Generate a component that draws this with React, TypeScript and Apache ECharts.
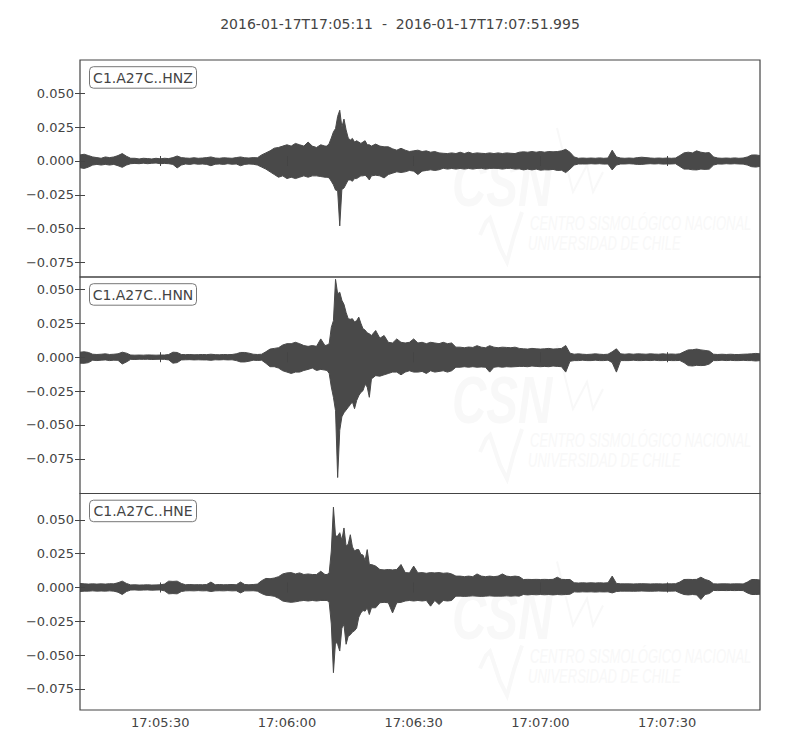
import React, { useEffect, useRef } from "react";
import * as echarts from "echarts";

const TITLE = "2016-01-17T17:05:11  -  2016-01-17T17:07:51.995";
const START_SEC = 17 * 3600 + 5 * 60 + 11;
const DURATION = 160.995;
const X_TICKS = [19, 49, 79, 109, 139];
const Y_TICKS = [-0.075, -0.05, -0.025, 0, 0.025, 0.05];
const CHANNELS = ["C1.A27C..HNZ", "C1.A27C..HNN", "C1.A27C..HNE"];
const Y_LIMITS = [
  [-0.0858, 0.0747],
  [-0.1006, 0.0592],
  [-0.0906, 0.0695],
];

// seconds after 17:05:11
const TIMES_PRE = [
  0, 1, 2, 3, 4, 5, 6, 7, 8, 9, 10, 11, 12, 13, 14, 15, 16, 17, 18, 19, 20, 21, 22, 23, 24, 25, 26, 27, 28, 29,
  30, 31, 32, 33, 34, 35, 36, 37, 38, 39, 40, 41, 42, 43, 44, 45, 46, 47, 48, 49, 50, 51, 52, 53, 54, 55, 56, 57, 58,
];
const TIMES_EVENT = [
  58.5, 59, 59.5, 60, 60.5, 61, 61.5, 62, 62.5, 63, 63.5, 64, 64.5, 65, 65.5, 66, 66.5, 67, 67.5, 68, 68.5, 69,
];
const TIMES_POST = [
  70, 71, 72, 73, 74, 75, 76, 77, 78, 79, 80, 81, 82, 83, 84, 85, 86, 87, 88, 89, 90, 91, 92, 93, 94, 95, 96, 97, 98, 99,
  100, 101, 102, 103, 104, 105, 106, 107, 108, 109, 110, 111, 112, 113, 114, 115, 116, 117, 118, 119,
  120, 121, 122, 123, 124, 125, 126, 127, 128, 129, 130, 131, 132, 133, 134, 135, 136, 137, 138, 139,
  140, 141, 142, 143, 144, 145, 146, 147, 148, 149, 150, 151, 152, 153, 154, 155, 156, 157, 158, 159, 160, 161,
];

// envelope maxima / minima, in units of 0.001
const HNZ_HI_PRE = [
  4.5, 5, 4, 3, 2.5, 2, 3, 2.5, 3, 4,
  5.5, 3.5, 2, 2, 1.5, 2, 1.8, 1.5, 2, 1.6,
  2, 1.8, 2.5, 3.7, 2.5, 2.2, 2, 2.4, 2, 2.2,
  2.5, 3, 2.2, 2, 2.4, 2.2, 2, 2.5, 3, 2.4,
  2.2, 2.5, 2.4, 4.5, 6, 7.5, 9.5, 10, 11, 12,
  11, 13, 12, 11, 14, 11, 10, 12, 11,
];
const HNZ_LO_PRE = [
  -5, -5.5, -4.5, -3, -2.5, -3, -2.5, -3, -2.5, -3.5,
  -4.7, -3, -2, -1.8, -2, -1.6, -2, -1.7, -1.5, -2,
  -1.8, -2, -2.5, -5.1, -3, -2.2, -2.5, -2, -2.4, -2.2,
  -2.5, -3.5, -2.4, -2.2, -2.5, -2, -2.4, -2.2, -3.5, -2.5,
  -2.2, -2.4, -3, -4.5, -6, -8, -10, -12, -11, -13,
  -12, -13, -12, -11, -12, -11, -11, -11.5, -12,
];
const HNZ_HI_EV = [11, 13, 17, 21.5, 24, 33, 37.5, 25, 31, 23, 17, 15.5, 16.7, 14, 15, 14, 13, 14, 15, 12, 12, 11];
const HNZ_LO_EV = [-12, -12.5, -15, -17.6, -21.5, -22, -48, -21, -20, -17, -14, -14, -15, -13, -13, -12, -11, -11, -10.5, -12, -14, -11];
const HNZ_HI_POST = [
  12.5, 11, 10.5, 10.5, 9, 8, 9.4, 8, 7, 7.5,
  8, 7, 7.5, 6.5, 7, 6, 5.7, 5.5, 6, 5.5,
  6.5, 5.5, 6.5, 5.5, 6, 5.7, 5.5, 6, 5.5, 6,
  5.5, 6, 5.7, 5.5, 6.5, 6.8, 6.5, 7, 6.5, 7,
  6.5, 7, 6.8, 7, 7.5, 8.6, 6.5, 3, 2, 2.2,
  2, 2.2, 2, 2.3, 2, 2.2, 8, 3, 2.2, 2,
  2.2, 2, 2.5, 2.8, 2.5, 2.2, 2, 2.2, 2, 2.2,
  2, 2.2, 4, 6, 6.5, 6, 7.5, 6.5, 6, 6.2,
  3, 2.2, 2, 2.2, 2, 2.3, 2, 2.2, 3, 4.4,
  4.5, 4,
];
const HNZ_LO_POST = [
  -10.5, -11, -12.5, -10, -9, -8, -8.5, -8, -7, -7.5,
  -10, -7.5, -7, -6.5, -7, -6.5, -5.4, -6, -5.5, -6,
  -5.5, -6, -5.5, -6, -5.5, -5.4, -6, -5.5, -5.4, -5.5,
  -6, -5.5, -5.4, -6, -5.8, -6.6, -6, -6.6, -6, -6.8,
  -6.5, -6.6, -6.2, -7, -6.8, -8.6, -6, -3, -2.2, -2.2,
  -2.2, -2, -2.2, -2, -2.3, -2.2, -6.6, -3, -2.2, -2.2,
  -2, -2.2, -2.5, -2.5, -2.2, -2, -2.2, -2, -2.3, -2.2,
  -2.2, -2, -4, -6, -6, -6.5, -6.6, -6, -6.2, -6,
  -3, -2.2, -2.3, -2, -2.2, -2, -2.2, -2.3, -3, -4.2,
  -4.5, -4,
];

const HNN_HI_PRE = [
  3.7, 4, 3.5, 2.2, 2, 2.2, 2.5, 2, 2.2, 2.5,
  3.7, 3, 1.6, 1.5, 1.6, 1.5, 1.7, 1.6, 1.5, 1.6,
  1.6, 2, 3.7, 3.5, 2, 1.9, 2, 1.8, 1.9, 2,
  1.9, 2.2, 1.9, 1.8, 2, 1.9, 2, 2.5, 3.5, 3.5,
  3, 2.2, 2, 2.2, 4, 6, 6.5, 7, 9, 10,
  10, 11, 10, 8.6, 8, 8.6, 8, 13.5, 8.6,
];
const HNN_LO_PRE = [
  -4.4, -4.5, -4, -2.2, -2.5, -2.2, -2, -2.5, -2.2, -2.3,
  -5, -3.5, -1.6, -1.7, -1.5, -1.6, -1.5, -1.7, -1.6, -1.5,
  -1.6, -2, -4.4, -4, -2, -1.9, -1.8, -2, -1.9, -2,
  -2, -2.3, -1.9, -2, -1.8, -2, -1.9, -2.5, -3.5, -3.5,
  -3, -2.2, -2.4, -2.2, -4.5, -7, -7, -8, -10, -11,
  -12, -11, -11, -9.8, -9, -8, -9.8, -9, -9.5,
];
const HNN_HI_EV = [9, 10, 22, 27, 57.5, 46.8, 48, 42, 39, 33, 28.4, 28, 28.4, 26, 27, 29.6, 25, 21, 20, 18, 17.3, 16];
const HNN_LO_EV = [-9.8, -12, -22, -29.6, -39.5, -88.8, -54, -44, -41, -39, -37, -35, -33, -38, -32, -28.4, -26, -24.7, -20, -22, -29.6, -16];
const HNN_HI_POST = [
  19.7, 14, 16, 11, 10.5, 13.5, 11, 10.5, 11, 13.5,
  10.5, 11, 10, 11, 10.5, 10, 11, 10, 10.5, 7.4,
  7.4, 7, 7.5, 7.2, 8.5, 7.4, 7, 8.5, 7.4, 7,
  7.4, 7.2, 7, 7.4, 6.5, 6.2, 6, 6.5, 6.2, 6,
  6.2, 6.5, 6, 6.2, 6.5, 8.6, 3, 2.2, 2.5, 2.2,
  2, 2.2, 2.5, 2.2, 2, 2.2, 4, 6.2, 2.5, 2.2,
  2.5, 2.2, 2.5, 2.4, 2.2, 2.5, 2.3, 2.2, 2.5, 2.2,
  2.4, 2.2, 2.5, 4, 5.4, 5.5, 6, 5.4, 5, 4.5,
  2.2, 2, 2.2, 2, 2.2, 2, 2, 2.2, 2.3, 2.5,
  2.8, 2.5,
];
const HNN_LO_POST = [
  -13.6, -14, -13, -12, -11, -11, -13, -11, -10, -11,
  -11, -10.5, -12, -10, -11, -10.5, -10, -11, -10, -7.4,
  -7.4, -7, -7.4, -7, -7.4, -7.2, -7.4, -11, -7.4, -7,
  -7.4, -7, -7.2, -7, -6.8, -6.8, -7, -6.5, -6.8, -7,
  -6.8, -7, -6.5, -6.8, -7, -11, -3, -2.5, -2.5, -2.2,
  -2.5, -2.5, -2.2, -2.5, -2.5, -2.2, -4, -11, -2.5, -2.5,
  -2.5, -2.2, -2.5, -2.5, -2.3, -2.5, -2.2, -2.5, -2.5, -2.3,
  -2.5, -2.5, -2.4, -4, -6.2, -6.5, -6, -6.2, -6, -5,
  -2.5, -2.5, -2.2, -2.5, -2.3, -2.5, -2.5, -2.3, -2.5, -2.5,
  -2.8, -2.5,
];

const HNE_HI_PRE = [
  3, 2.7, 2.5, 2.7, 2.5, 2.7, 2.5, 2.8, 2.7, 3.5,
  4.7, 3, 1.9, 2, 1.8, 1.9, 2, 1.8, 1.9, 2,
  2.5, 4.7, 4.5, 4.7, 3, 2, 2.2, 2, 2.1, 2,
  2.2, 4, 2, 2.2, 2, 2.1, 2.2, 2, 4, 2.2,
  2, 2.2, 2.5, 5, 6.7, 6.5, 7, 8, 10, 10.8,
  11, 10, 10.8, 9.6, 10, 9.6, 9.6, 12, 9.6,
];
const HNE_LO_PRE = [
  -3, -2.7, -2.7, -2.5, -2.7, -2.6, -2.7, -2.5, -2.7, -3.5,
  -5.2, -3, -1.9, -1.8, -2, -1.9, -1.8, -2, -1.9, -1.8,
  -2.5, -4.7, -4.5, -4.7, -3, -2.5, -2.4, -2.5, -2.3, -2.5,
  -2.4, -3, -2.5, -2.4, -2.5, -2.3, -2.5, -2.4, -4, -2.5,
  -2.5, -2.4, -2.7, -4.5, -5.7, -6, -6.5, -8, -10, -10.6,
  -11, -10.6, -10, -9.6, -10, -9.6, -10, -9.6, -9.6,
];
const HNE_HI_EV = [9.6, 10.8, 27, 59.4, 38, 38, 40.5, 35, 44, 30.6, 32, 39, 30, 27, 28, 28, 24.4, 24, 20, 28, 17, 17];
const HNE_LO_EV = [-9.6, -11, -27, -63, -40, -42, -47, -30, -27.4, -42, -36, -35, -33, -32, -30, -22, -18.8, -17, -17.5, -15, -20, -15];
const HNE_HI_POST = [
  15.8, 13.3, 13, 13.3, 13, 13.3, 17, 11, 10.8, 15.8,
  10.8, 11, 10.5, 11, 10.8, 11, 10.5, 10.8, 10, 8.4,
  8.4, 8, 8.4, 8, 10, 8.4, 8, 8.4, 8, 8.4,
  10, 8.4, 8, 8.4, 8, 5.9, 6, 5.9, 6, 5.9,
  6, 5.9, 6, 7.6, 6, 5.9, 5.9, 3.5, 3.3, 3.5,
  3.3, 3.5, 3.3, 3.5, 3.3, 3.5, 8.4, 3, 2.7, 2.7,
  2.7, 2.6, 2.7, 2.8, 2.7, 2.6, 2.7, 2.7, 2.6, 2.7,
  2.7, 2.8, 4, 5.9, 6, 5.9, 6, 7.6, 5.9, 5,
  2.7, 2.6, 2.7, 2.7, 2.6, 2.7, 2.7, 2.6, 4, 5.9,
  5.9, 5.5,
];
const HNE_LO_POST = [
  -15, -11.3, -11, -11.3, -18.8, -11.3, -11, -10, -9.6, -10,
  -9.6, -10, -9.6, -13.8, -9.6, -12.5, -9.6, -10, -9.6, -6.4,
  -6.4, -6.6, -6.4, -6.2, -6.4, -6.6, -6.4, -6.2, -6.4, -6.4,
  -6.4, -6.2, -6.4, -6.2, -6.4, -5.2, -5.5, -5.2, -5.4, -5.2,
  -5.4, -5.2, -5.5, -5.2, -5.4, -5.2, -5, -3.2, -3.4, -3.2,
  -3.3, -3.2, -3.4, -3.2, -3.3, -3.2, -4, -3, -2.7, -2.7,
  -2.7, -2.8, -2.7, -2.6, -2.7, -2.8, -2.7, -2.6, -2.7, -2.7,
  -2.7, -2.6, -4, -5.2, -5.5, -5.2, -5.5, -8.9, -5.2, -4.5,
  -2.2, -2.3, -2.2, -2.3, -2.2, -2.3, -2.2, -2.3, -4, -5.2,
  -5.2, -5,
];

const TRACE = "#494949";
const FRAME = "#444444";
const TEXT = "#444444";
const MARK = "#f8f8f8";
const FONT = "DejaVu Sans";

const PANEL_TOPS = [60, 277, 493.5];
const PANEL_BOTTOM = 710;
const LEFT = 80;
const WIDTH = 680;

function pad(n: number) {
  return (n < 10 ? "0" : "") + n;
}
function fmtTime(v: number) {
  const s = Math.round(START_SEC + v);
  return `${pad(Math.floor(s / 3600))}:${pad(Math.floor((s % 3600) / 60))}:${pad(s % 60)}`;
}
function fmtY(v: number) {
  const r = Math.round(v * 1000) / 1000;
  if (r === 0) return "0.000";
  return (r < 0 ? "\u2212" : "") + Math.abs(r).toFixed(3);
}

export default function App() {
  const ref = useRef<HTMLDivElement>(null);

  useEffect(() => {
    if (!ref.current) return;
    const chart = echarts.init(ref.current, null, { renderer: "svg" });

    const times = [...TIMES_PRE, ...TIMES_EVENT, ...TIMES_POST];
    const channels = [
      { hi: [...HNZ_HI_PRE, ...HNZ_HI_EV, ...HNZ_HI_POST], lo: [...HNZ_LO_PRE, ...HNZ_LO_EV, ...HNZ_LO_POST] },
      { hi: [...HNN_HI_PRE, ...HNN_HI_EV, ...HNN_HI_POST], lo: [...HNN_LO_PRE, ...HNN_LO_EV, ...HNN_LO_POST] },
      { hi: [...HNE_HI_PRE, ...HNE_HI_EV, ...HNE_HI_POST], lo: [...HNE_LO_PRE, ...HNE_LO_EV, ...HNE_LO_POST] },
    ];

    const grids: any[] = [];
    const xAxes: any[] = [];
    const yAxes: any[] = [];
    const series: any[] = [];
    const graphics: any[] = [];

    channels.forEach((ch, i) => {
      const top = PANEL_TOPS[i];
      const bottom = i < 2 ? PANEL_TOPS[i + 1] : PANEL_BOTTOM;
      grids.push({
        left: LEFT,
        top,
        width: WIDTH,
        height: bottom - top,
        show: true,
        borderColor: FRAME,
        borderWidth: 1.2,
        backgroundColor: "transparent",
        z: 5,
      });
      const tickStyle = { show: true, inside: true, length: 5, lineStyle: { color: FRAME, width: 1 } };
      xAxes.push({
        type: "value",
        gridIndex: i,
        min: 0,
        max: DURATION,
        position: "bottom",
        axisLine: { show: false },
        splitLine: { show: false },
        axisTick: { ...tickStyle, customValues: X_TICKS },
        axisLabel: {
          show: i === 2,
          customValues: X_TICKS,
          formatter: (v: number) => fmtTime(v),
          color: TEXT,
          fontSize: 13,
          fontFamily: FONT,
          margin: 6,
        },
        z: 6,
      });
      xAxes.push({
        type: "value",
        gridIndex: i,
        min: 0,
        max: DURATION,
        position: "top",
        axisLine: { show: false },
        splitLine: { show: false },
        axisTick: { ...tickStyle, customValues: X_TICKS },
        axisLabel: { show: false },
        z: 6,
      });
      const [ymin, ymax] = Y_LIMITS[i];
      yAxes.push({
        type: "value",
        gridIndex: i,
        min: ymin,
        max: ymax,
        position: "left",
        axisLine: { show: false },
        splitLine: { show: false },
        axisTick: { ...tickStyle, customValues: Y_TICKS },
        axisLabel: {
          customValues: Y_TICKS,
          formatter: (v: number) => fmtY(v),
          color: TEXT,
          fontSize: 13,
          fontFamily: FONT,
          margin: 6,
        },
        z: 6,
      });
      yAxes.push({
        type: "value",
        gridIndex: i,
        min: ymin,
        max: ymax,
        position: "right",
        axisLine: { show: false },
        splitLine: { show: false },
        axisTick: { ...tickStyle, customValues: Y_TICKS },
        axisLabel: { show: false },
        z: 6,
      });

      const n = Math.min(times.length, ch.hi.length, ch.lo.length);
      const data: number[][] = [];
      for (let k = 0; k < n; k++) data.push([times[k], ch.hi[k] / 1000, ch.lo[k] / 1000]);
      series.push({
        type: "custom",
        name: CHANNELS[i],
        xAxisIndex: 2 * i,
        yAxisIndex: 2 * i,
        clip: true,
        silent: true,
        encode: { x: 0, y: [1, 2] },
        data,
        renderItem: (params: any, api: any) => {
          if (params.dataIndex !== 0) return null;
          const upper = data.map((p) => api.coord([p[0], p[1]]));
          const lower = data.map((p) => api.coord([p[0], p[2]])).reverse();
          return {
            type: "polygon",
            shape: { points: upper.concat(lower) },
            style: { fill: TRACE, stroke: TRACE, lineWidth: 1, lineJoin: "round" },
          };
        },
        z: 3,
      });

      // label box
      const by = top + 6.7;
      graphics.push({
        type: "rect",
        shape: { x: 89.5, y: by, width: 107, height: 21.5, r: 4 },
        style: { fill: "#ffffff", stroke: "#777777", lineWidth: 1 },
        z: 100,
      });
      graphics.push({
        type: "text",
        x: 143,
        y: by + 11,
        style: {
          text: CHANNELS[i],
          fill: TEXT,
          font: `14px '${FONT}'`,
          align: "center",
          verticalAlign: "middle",
        },
        z: 101,
      });

      // faint watermark
      const dy = top - 60;
      graphics.push({
        type: "text",
        x: 452,
        y: 150 + dy,
        scaleX: 0.72,
        style: { text: "CSN", fill: MARK, font: `italic bold 66px 'Liberation Sans'` },
        z: 0,
      });
      graphics.push({
        type: "text",
        x: 530,
        y: 212 + dy,
        scaleX: 0.62,
        style: { text: "CENTRO SISMOLÓGICO NACIONAL", fill: MARK, font: `italic 21px 'Liberation Sans'` },
        z: 0,
      });
      graphics.push({
        type: "text",
        x: 528,
        y: 232 + dy,
        scaleX: 0.62,
        style: { text: "UNIVERSIDAD DE CHILE", fill: MARK, font: `italic 21px 'Liberation Sans'` },
        z: 0,
      });
      graphics.push({
        type: "polyline",
        shape: {
          points: [
            [480, 235 + dy],
            [486, 222 + dy],
            [490, 218 + dy],
            [500, 248 + dy],
            [507, 262 + dy],
            [514, 236 + dy],
            [522, 212 + dy],
          ],
        },
        style: { stroke: MARK, lineWidth: 4, fill: null },
        z: 0,
      });
      graphics.push({
        type: "polyline",
        shape: {
          points: [
            [557, 128 + dy],
            [573, 192 + dy],
            [587, 165 + dy],
            [593, 192 + dy],
            [603, 172 + dy],
          ],
        },
        style: { stroke: MARK, lineWidth: 2, fill: null },
        z: 0,
      });
    });

    chart.setOption({
      animation: false,
      backgroundColor: "#ffffff",
      title: {
        text: TITLE,
        left: "center",
        top: 12,
        textStyle: { fontSize: 14, fontWeight: "normal", color: TEXT, fontFamily: FONT },
      },
      grid: grids,
      xAxis: xAxes,
      yAxis: yAxes,
      series,
      graphic: { elements: graphics },
    });

    return () => chart.dispose();
  }, []);

  return <div ref={ref} style={{ width: 800, height: 750, margin: -8 }} />;
}
